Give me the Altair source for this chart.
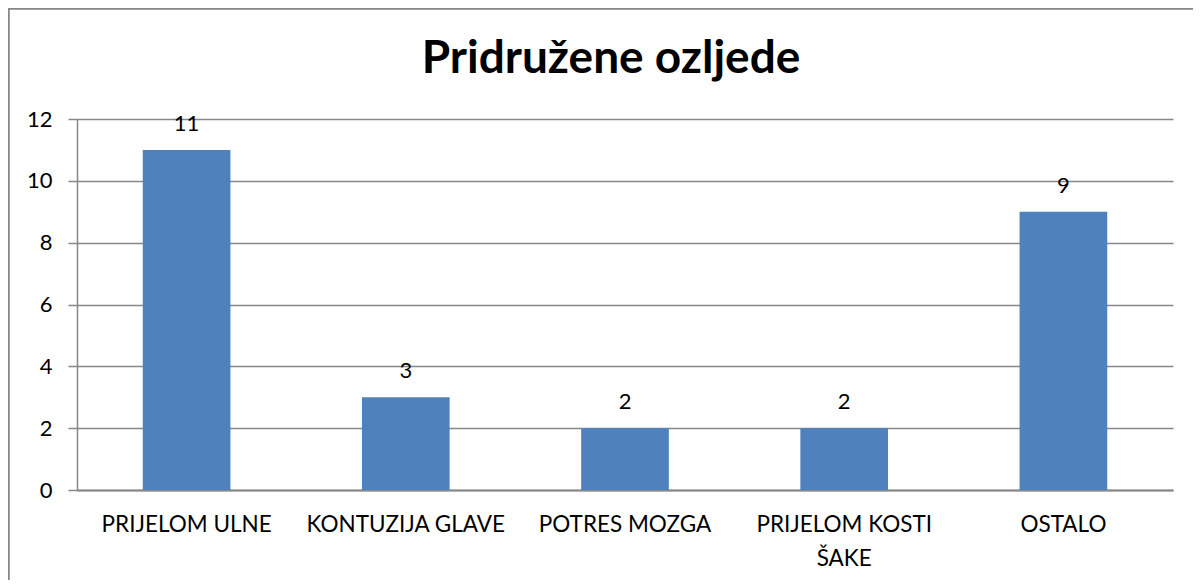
import altair as alt
import pandas as pd

categories = ["PRIJELOM ULNE", "KONTUZIJA GLAVE", "POTRES MOZGA", "PRIJELOM KOSTI ŠAKE", "OSTALO"]
values = [11, 3, 2, 2, 9]
y_ticks = [0, 2, 4, 6, 8, 10, 12]
title_text = "Pridružene ozljede"

df = pd.DataFrame({"cat": categories, "val": values})

FONT = "Lato"
GRAY = "#878787"
W, H = 1096, 371
PL, PT = 69, 111

x_enc = alt.X("cat:N", sort=categories, title=None,
              scale=alt.Scale(paddingInner=0.6, paddingOuter=0.3),
              axis=alt.Axis(labelAngle=0, labelFontSize=22.5, labelFont=FONT, labelColor="#000000",
                            labelPadding=41, ticks=False, domainColor=GRAY, domainWidth=2,
                            labelLineHeight=34, labelBaseline="alphabetic", labelLimit=400,
                            labelExpr="datum.label == 'PRIJELOM KOSTI ŠAKE' ? ['PRIJELOM KOSTI', 'ŠAKE'] : datum.label"))
y_enc = alt.Y("val:Q", title=None,
              scale=alt.Scale(domain=[0, 12], nice=False),
              axis=alt.Axis(values=y_ticks, labelFontSize=22, labelFont=FONT, labelColor="#000000",
                            tickSize=9, tickColor=GRAY, tickWidth=1.5, gridColor=GRAY, gridWidth=1.5,
                            domainColor=GRAY, domainWidth=1.5, labelPadding=16))

bars = alt.Chart(df).mark_bar(color="#4F81BD").encode(x=x_enc, y=y_enc)
labels = alt.Chart(df).mark_text(dy=-19, baseline="alphabetic", fontSize=22, font=FONT,
                                 color="#000000").encode(
    x=alt.X("cat:N", sort=categories), y="val:Q", text="val:Q")
title = alt.Chart(pd.DataFrame({"t": [title_text]})).mark_text(
    fontSize=46, font=FONT, fontWeight="bold", color="#000000", baseline="alphabetic",
    align="center").encode(x=alt.value(534), y=alt.value(-46), text="t:N")
border = alt.Chart(df).mark_rect(fill=None, stroke=GRAY, strokeWidth=1.5).encode(
    x=alt.value(-PL + 0.5), x2=alt.value(1119),
    y=alt.value(-PT + 0.5), y2=alt.value(H + 120))

chart = alt.layer(bars, labels, title, border).properties(
    width=W, height=H,
    autosize=alt.AutoSizeParams(type="none"),
    padding={"left": PL, "top": PT, "right": 20, "bottom": 90},
).configure_view(stroke=None)

chart.save("out.html", embed_options={"renderer": "svg", "actions": False})
